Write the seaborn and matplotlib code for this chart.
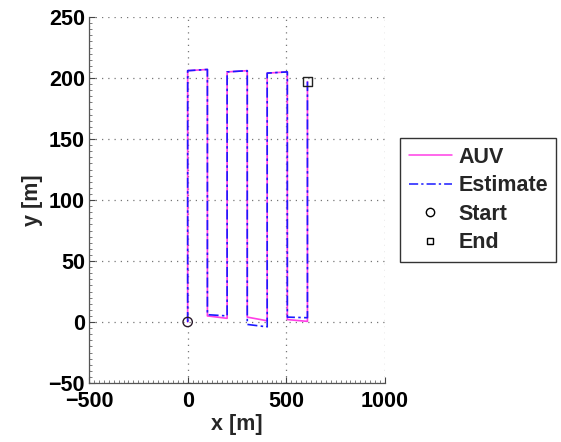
import matplotlib
matplotlib.use("Agg")
import matplotlib.pyplot as plt
from matplotlib.lines import Line2D
from matplotlib.ticker import MultipleLocator
import numpy as np
import pandas as pd
import seaborn as sns

# Lawnmower survey track: true AUV path and navigation estimate (vertices)
auv_x = [0, 0, 100, 100, 200, 200, 302, 302, 403, 403, 505, 505, 607, 607]
auv_y = [0, 206, 207, 5, 3, 205, 206, 4, 1, 204, 205, 2, 0.5, 197]
est_x = [0, 0, 100, 100, 200, 200, 302, 302, 403, 403, 505, 505, 607, 607]
est_y = [0, 206, 207, 6, 5, 205, 206, -2, -4, 204, 205, 4, 3.5, 197]

start_pt = (0, 0)
end_pt = (607, 197)

x_ticks = [-500, 0, 500, 1000]
y_ticks = [-50, 0, 50, 100, 150, 200, 250]

AUV_COLOR = "#ff3ee6"
EST_COLOR = "#1a1aff"
EST_DASH = (0, (6, 2, 1.5, 2))

sns.set_theme(style="white")
plt.rcParams["font.family"] = ["Liberation Sans", "DejaVu Sans"]
plt.rcParams["font.weight"] = "bold"

fig = plt.figure(figsize=(5.61, 4.42), dpi=100)
ax = fig.add_axes([89 / 561, 1 - 383 / 442, (385 - 89) / 561, (383 - 17) / 442])

auv = pd.DataFrame({"x": auv_x, "y": auv_y})
est = pd.DataFrame({"x": est_x, "y": est_y})

sns.lineplot(data=auv, x="x", y="y", sort=False, estimator=None, ax=ax,
             color=AUV_COLOR, linewidth=1.2)
sns.lineplot(data=est, x="x", y="y", sort=False, estimator=None, ax=ax,
             color=EST_COLOR, linewidth=1.2, linestyle=EST_DASH)
sns.scatterplot(x=[start_pt[0]], y=[start_pt[1]], ax=ax, marker="o", s=45,
                facecolor="none", edgecolor="#2a1a2a", linewidth=1.0, zorder=5)
sns.scatterplot(x=[end_pt[0]], y=[end_pt[1]], ax=ax, marker="s", s=45,
                facecolor="none", edgecolor="#222222", linewidth=1.0, zorder=5)

ax.set_xlim(-500, 1000)
ax.set_ylim(-50, 250)
ax.set_xticks(x_ticks)
ax.set_yticks(y_ticks)
ax.xaxis.set_minor_locator(MultipleLocator(25))
ax.yaxis.set_minor_locator(MultipleLocator(5))
ax.tick_params(axis="both", which="major", direction="in", length=4, width=0.8,
               labelsize=15.5, colors="#444444", labelcolor="black",
               bottom=True, left=True)
ax.tick_params(axis="x", which="major", pad=6)
ax.tick_params(axis="y", which="major", pad=3)
ax.tick_params(axis="both", which="minor", direction="in", length=2, width=0.6,
               colors="#666666", bottom=True, left=True)
for lbl in ax.get_xticklabels() + ax.get_yticklabels():
    lbl.set_fontweight("bold")

ax.grid(True, which="major", linestyle=(0, (1, 4)), color="#777777", linewidth=0.9)
for side in ("top", "right"):
    ax.spines[side].set_visible(False)
for side in ("left", "bottom"):
    ax.spines[side].set_color("#555555")
    ax.spines[side].set_linewidth(0.9)

ax.set_xlabel("x [m]", fontsize=15.5, fontweight="bold", labelpad=1)
ax.set_ylabel("y [m]", fontsize=15.5, fontweight="bold", labelpad=4)

handles = [
    Line2D([], [], color=AUV_COLOR, linewidth=1.1),
    Line2D([], [], color=EST_COLOR, linewidth=1.1, linestyle=EST_DASH),
    Line2D([], [], linestyle="none", marker="o", markersize=6,
           markerfacecolor="none", markeredgecolor="black"),
    Line2D([], [], linestyle="none", marker="s", markersize=5,
           markerfacecolor="none", markeredgecolor="black"),
]
if ax.legend_ is not None:
    ax.legend_.remove()
leg = fig.legend(handles, ["AUV", "Estimate", "Start", "End"],
                 loc="center left", bbox_to_anchor=(400 / 561, 1 - 200 / 442),
                 prop={"size": 15.5, "weight": "bold"}, frameon=True,
                 fancybox=False, edgecolor="black", handlelength=2.0,
                 handletextpad=0.3, labelspacing=0.35, borderpad=0.4,
                 borderaxespad=0)
leg.get_frame().set_linewidth(1.0)

fig.savefig("out.png", dpi=100)
